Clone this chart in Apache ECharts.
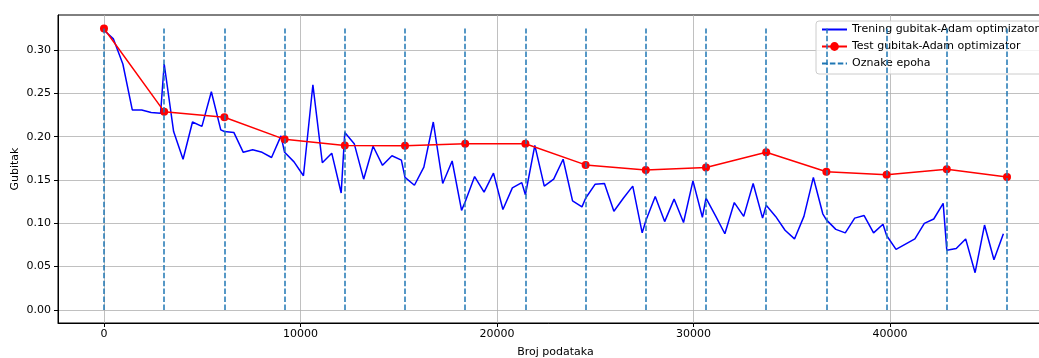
<!DOCTYPE html>
<html>
<head>
<meta charset="utf-8">
<script src="https://cdn.jsdelivr.net/npm/echarts@6/dist/echarts.min.js"></script>
<style>
  html, body { margin: 0; padding: 0; background: #fff; }
  #chart { width: 1039px; height: 358px; }
</style>
</head>
<body>
<div id="chart"></div>
<script>
// broj podataka po epohi i korak logiranja trening gubitka
var epochSize = 3064;
var logStep = 480;

// trening gubitak, 7 zapisa po epohi
var trainLoss = [
  [0.323, 0.313, 0.284, 0.231, 0.231, 0.228, 0.227],
  [0.284, 0.206, 0.174, 0.217, 0.212, 0.252, 0.208],
  [0.206, 0.205, 0.182, 0.185, 0.182, 0.176, 0.201],
  [0.182, 0.171, 0.155, 0.260, 0.170, 0.181, 0.135],
  [0.205, 0.192, 0.151, 0.189, 0.167, 0.178, 0.173],
  [0.153, 0.144, 0.165, 0.217, 0.146, 0.172, 0.115],
  [0.125, 0.154, 0.136, 0.158, 0.116, 0.141, 0.147],
  [0.133, 0.190, 0.143, 0.151, 0.174, 0.126, 0.119],
  [0.129, 0.145, 0.146, 0.114, 0.129, 0.143, 0.089],
  [0.103, 0.131, 0.102, 0.128, 0.101, 0.149, 0.107],
  [0.129, 0.109, 0.088, 0.124, 0.108, 0.146, 0.106],
  [0.121, 0.108, 0.092, 0.082, 0.108, 0.153, 0.111],
  [0.104, 0.093, 0.089, 0.106, 0.109, 0.089, 0.099],
  [0.086, 0.070, 0.076, 0.082, 0.100, 0.105, 0.123],
  [0.069, 0.071, 0.082, 0.043, 0.098, 0.058, 0.088]
];

// test gubitak na kraju svake epohe
var testLoss = [0.325, 0.229, 0.2225, 0.197, 0.190, 0.1895, 0.192, 0.192,
                0.1675, 0.1615, 0.1645, 0.182, 0.1595, 0.156, 0.1625, 0.1535];

var xTicks = [0, 10000, 20000, 30000, 40000];
var yTicks = [0, 0.05, 0.10, 0.15, 0.20, 0.25, 0.30];
var markerTop = 0.325;

var trainData = [];
trainLoss.forEach(function (epoch, e) {
  epoch.forEach(function (v, j) {
    trainData.push([e * epochSize + j * logStep, v]);
  });
});
var testData = testLoss.map(function (v, e) { return [e * epochSize, v]; });
var epochLines = testLoss.map(function (v, e) {
  return [{ coord: [e * epochSize, 0] }, { coord: [e * epochSize, markerTop] }];
});

var font = 'DejaVu Sans';
var noMarker = { opacity: 0, borderWidth: 0 };
var chart = echarts.init(document.getElementById('chart'), null, { renderer: 'canvas' });
chart.setOption({
  animation: false,
  textStyle: { fontFamily: font },
  grid: {
    left: 58, top: 15, right: -14, bottom: 35,
    show: true, borderColor: '#000', borderWidth: 1,
    containLabel: false, outerBoundsMode: 'none'
  },
  legend: {
    orient: 'vertical',
    left: 816, top: 21,
    padding: [3, 8, 5, 5],
    itemWidth: 25, itemHeight: 11, itemGap: 6,
    backgroundColor: 'rgba(255,255,255,0.8)',
    borderColor: '#cccccc', borderWidth: 1, borderRadius: 3,
    textStyle: { fontFamily: font, fontSize: 11, color: '#000' },
    data: [
      { name: 'Trening gubitak-Adam optimizator', itemStyle: noMarker },
      { name: 'Test gubitak-Adam optimizator' },
      { name: 'Oznake epoha', itemStyle: noMarker }
    ]
  },
  xAxis: {
    type: 'value',
    min: -2341, max: 48301,
    name: 'Broj podataka',
    nameLocation: 'middle', nameGap: 24, nameMoveOverlap: false,
    nameTextStyle: { fontFamily: font, fontSize: 11, color: '#000' },
    axisLine: { show: true, onZero: false, lineStyle: { color: '#000', width: 1 } },
    axisTick: { show: true, length: 4, customValues: xTicks, lineStyle: { color: '#000' } },
    axisLabel: {
      customValues: xTicks, fontFamily: font, fontSize: 11, color: '#000', margin: 6,
      formatter: function (v) { return String(v); }
    },
    splitLine: { show: true, lineStyle: { color: '#b0b0b0', width: 0.8 } }
  },
  yAxis: {
    type: 'value',
    min: -0.0151, max: 0.3406,
    name: 'Gubitak',
    nameLocation: 'middle', nameGap: 37, nameMoveOverlap: false,
    nameTextStyle: { fontFamily: font, fontSize: 11, color: '#000' },
    axisLine: { show: true, onZero: false, lineStyle: { color: '#000', width: 1 } },
    axisTick: { show: true, length: 4, customValues: yTicks, lineStyle: { color: '#000' } },
    axisLabel: {
      customValues: yTicks, fontFamily: font, fontSize: 11, color: '#000', margin: 7,
      formatter: function (v) { return v.toFixed(2); }
    },
    splitLine: { show: true, lineStyle: { color: '#b0b0b0', width: 0.8 } }
  },
  series: [
    {
      name: 'Trening gubitak-Adam optimizator',
      type: 'line',
      data: trainData,
      symbol: 'none',
      lineStyle: { color: '#0000ff', width: 1.5 },
      itemStyle: { color: '#0000ff' },
      z: 2
    },
    {
      name: 'Test gubitak-Adam optimizator',
      type: 'line',
      data: testData,
      symbol: 'circle', symbolSize: 8,
      lineStyle: { color: '#ff0000', width: 1.5 },
      itemStyle: { color: '#ff0000' },
      z: 3
    },
    {
      name: 'Oznake epoha',
      type: 'line',
      data: [],
      symbol: 'none',
      lineStyle: { color: '#1f77b4', width: 1.5, type: [5.5, 2.4] },
      itemStyle: { color: '#1f77b4' },
      z: 4,
      markLine: {
        silent: true,
        symbol: ['none', 'none'],
        label: { show: false },
        lineStyle: { color: '#1f77b4', width: 1.5, type: [5.5, 2.4] },
        emphasis: { disabled: true },
        data: epochLines
      }
    }
  ]
});
</script>
</body>
</html>
